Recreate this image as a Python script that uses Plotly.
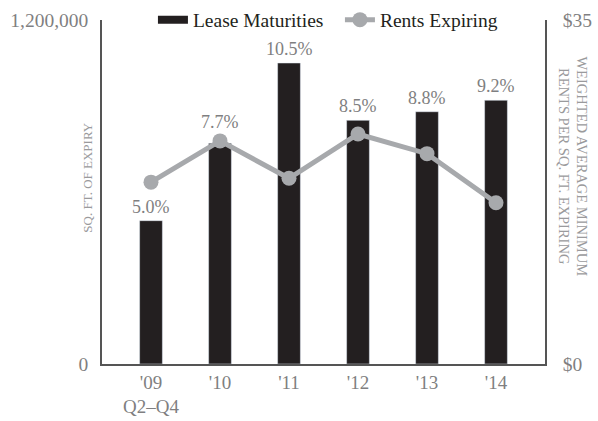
import plotly.graph_objects as go

categories = ["'09<br>Q2\u2013Q4", "'10", "'11", "'12", "'13", "'14"]
lease_maturities = [500000, 770000, 1050000, 850000, 880000, 920000]
rents_expiring = [18.5, 22.7, 18.9, 23.4, 21.4, 16.4]
pct_labels = ["5.0%", "7.7%", "10.5%", "8.5%", "8.8%", "9.2%"]

FONT = "Liberation Serif"
GRAY = "#7f7f81"
BAR = "#231f20"
LINE = "#a7a9ac"
xs = list(range(len(categories)))

fig = go.Figure()
fig.add_trace(go.Bar(
    x=xs, y=lease_maturities, name="Lease Maturities", showlegend=False,
    marker=dict(color=BAR), width=0.33, yaxis="y",
))
# legend-only entry drawn as a wide black bar swatch
fig.add_trace(go.Scatter(
    x=[None], y=[None], name="Lease Maturities", mode="lines",
    line=dict(color=BAR, width=8), yaxis="y",
))
fig.add_trace(go.Scatter(
    x=xs, y=rents_expiring, name="Rents Expiring", yaxis="y2",
    mode="lines+markers", line=dict(color=LINE, width=5),
    marker=dict(color=LINE, size=15),
))

# percentage labels: above bar, or above the marker when the marker sits near the bar top
for i, lab in enumerate(pct_labels):
    bar_frac = lease_maturities[i] / 1200000
    line_frac = rents_expiring[i] / 35
    if bar_frac - 0.01 < line_frac < bar_frac + 0.06:
        fig.add_annotation(x=xs[i], y=rents_expiring[i], yref="y2", text=lab,
                           showarrow=False, yanchor="bottom", yshift=7,
                           font=dict(family=FONT, size=18, color=GRAY))
    else:
        fig.add_annotation(x=xs[i], y=lease_maturities[i], yref="y", text=lab,
                           showarrow=False, yanchor="bottom", yshift=2,
                           font=dict(family=FONT, size=18, color=GRAY))

fig.add_annotation(xref="paper", yref="paper", x=-0.032, y=0.544, xanchor="center",
                   yanchor="middle", text="SQ. FT. OF EXPIRY",
                   textangle=-90, showarrow=False,
                   font=dict(family=FONT, size=13, color="#9a9a9c"))
fig.add_annotation(xref="paper", yref="paper", x=1.062, y=0.573, xanchor="center",
                   yanchor="middle",
                   text="WEIGHTED AVERAGE MINIMUM<br>RENTS PER SQ. FT. EXPIRING",
                   textangle=90, showarrow=False,
                   font=dict(family=FONT, size=14.5, color="#9a9a9c"))

fig.update_layout(
    width=598, height=421,
    margin=dict(l=102, r=53, t=20, b=57, autoexpand=False),
    plot_bgcolor="white", paper_bgcolor="white",
    showlegend=True,
    legend=dict(orientation="h", x=0.115, xanchor="left", y=1.0, yanchor="middle",
                font=dict(family=FONT, size=19.5, color=BAR),
                bgcolor="rgba(0,0,0,0)", traceorder="normal",
                entrywidth=142, entrywidthmode="pixels", itemwidth=30),
    xaxis=dict(tickmode="array", tickvals=xs, ticktext=categories,
               range=[-0.71, 5.71], showgrid=False, zeroline=False,
               showline=True, linecolor="#555", linewidth=1.5,
               tickfont=dict(family=FONT, size=19, color=GRAY), ticks=""),
    yaxis=dict(range=[0, 1200000], tickmode="array", tickvals=[0, 1200000],
               ticktext=["0", "1,200,000"], showgrid=False, zeroline=False,
               showline=True, linecolor="#555", linewidth=1.5,
               tickfont=dict(family=FONT, size=19.5, color=GRAY), ticks="",
               ticklabelstandoff=8),
    yaxis2=dict(range=[0, 35], overlaying="y", side="right", tickmode="array",
                tickvals=[0, 35], ticktext=["$0", "$35"], showgrid=False,
                zeroline=False, showline=True, linecolor="#555", linewidth=1.5,
                tickfont=dict(family=FONT, size=19.5, color=GRAY), ticks="",
                ticklabelstandoff=12),
)

fig.write_html("out.html")
